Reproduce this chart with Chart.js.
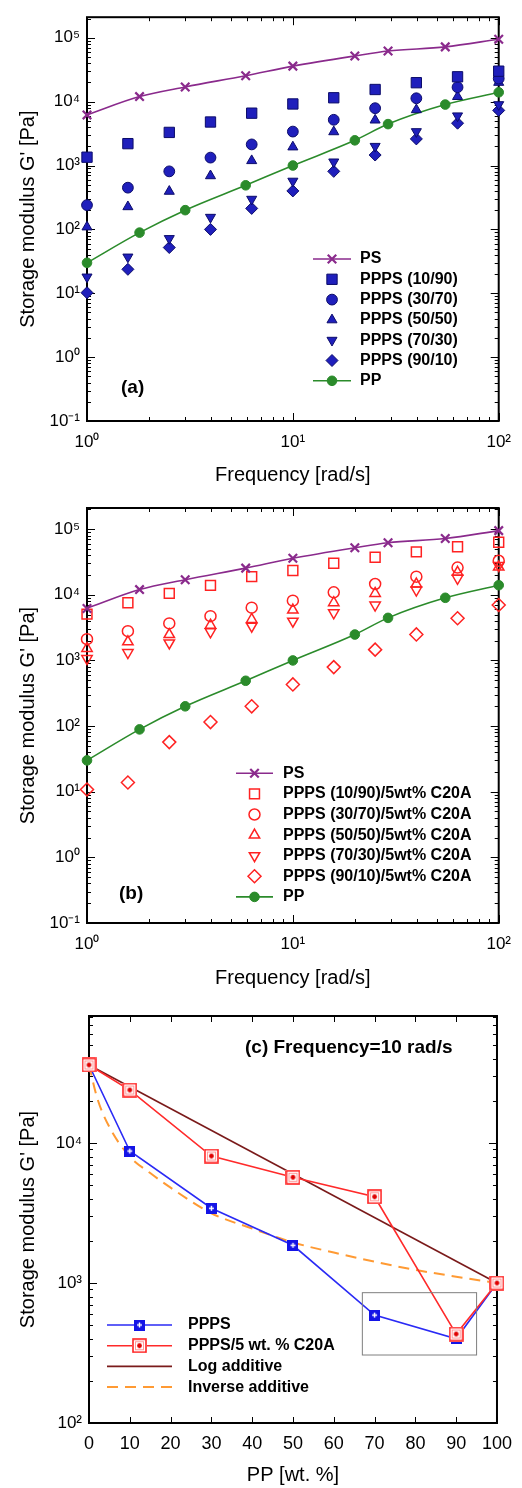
<!DOCTYPE html>
<html>
<head>
<meta charset="utf-8">
<script src="https://cdn.jsdelivr.net/npm/chart.js@4.4.0/dist/chart.umd.min.js"></script>
<style>
  body { margin: 0; background: #fff; width: 522px; }
  .panel { position: relative; width: 522px; }
</style>
</head>
<body>
<div class="panel" style="height:490px"><canvas id="chartA"></canvas></div>
<div class="panel" style="height:500px"><canvas id="chartB"></canvas></div>
<div class="panel" style="height:498px"><canvas id="chartC"></canvas></div>
<script>
// --- data ---
const freqPure = [1, 1.8, 3, 5.9, 10, 20, 29, 55, 100];
const freqBlend = [1, 1.58, 2.51, 3.98, 6.31, 10, 15.8, 25.1, 39.8, 63.1, 100];
const gPS = [6200, 12000, 17000, 25500, 36000, 52000, 62000, 72000, 95000];
const gPP = [30, 89, 200, 490, 1000, 2480, 4450, 9000, 14000];

const gA_10_90 = [1350, 2200, 3300, 4800, 6600, 9200, 11500, 15500, 19800, 24500, 30000];
const gA_30_70 = [240, 450, 810, 1330, 2140, 3400, 5200, 7900, 11300, 16800, 23000];
const gA_50_50 = [109, 226, 394, 690, 1190, 1950, 3370, 5140, 7460, 12000, 20000];
const gA_70_30 = [18, 37, 72, 155, 297, 570, 1140, 2000, 3400, 6000, 9000];
const gA_90_10 = [10.2, 23.7, 52, 100, 213, 400, 810, 1460, 2610, 4600, 7300];

const gB_10_90 = [5080, 7570, 10500, 13900, 18900, 23400, 30200, 37300, 45100, 54000, 63000];
const gB_30_70 = [2110, 2790, 3660, 4730, 6360, 8130, 10900, 14600, 18900, 26000, 33000];
const gB_50_50 = [1520, 1920, 2480, 3450, 4220, 5850, 7570, 10500, 14600, 22000, 26500];
const gB_70_30 = [1070, 1320, 1850, 2730, 3330, 3970, 5320, 6980, 11800, 17800, 28000];
const gB_90_10 = [10.8, 13.8, 57, 115, 200, 431, 791, 1460, 2490, 4400, 7000];

const ppContent = [0, 10, 30, 50, 70, 90, 100];
const gPPPS = [36100, 8770, 3420, 1860, 590, 400, 1000];
const gPPPSclay = [36100, 23900, 8070, 5690, 4130, 432, 1000];
const logAddX = [0, 100];
const logAddG = [36100, 1000];
const invAddX = [0, 2, 5, 10, 15, 20, 30, 40, 50, 60, 70, 80, 90, 100];
const invAddG = [36100, 21000, 13000, 8000, 6100, 4800, 3150, 2450, 1950, 1650, 1420, 1240, 1110, 1000];
const zoomBox = [67, 95, 306, 853]; // x1, x2, y1, y2 in data units

const freqTicks = [1, 10, 100];
const gTicksAB = [0.1, 1, 10, 100, 1000, 10000, 100000];
const gTicksC = [100, 1000, 10000];
const ppTicks = [0, 10, 20, 30, 40, 50, 60, 70, 80, 90, 100];

const FONT = 'Arial, "Liberation Sans", sans-serif';
const SUP = {'-': '\u207B', '0': '\u2070', '1': '\u00B9', '2': '\u00B2', '3': '\u00B3', '4': '\u2074',
             '5': '\u2075', '6': '\u2076', '7': '\u2077', '8': '\u2078', '9': '\u2079'};
function powLabel(v) {
  const e = Math.round(Math.log10(v));
  return '10' + String(e).split('').map(c => SUP[c]).join('');
}
function pts(xs, ys) { return xs.map((x, i) => ({x: x, y: ys[i]})); }

// frame with inward ticks on all four sides
function tickList(scale, majors) {
  const minor = [];
  if (scale.type === 'logarithmic') {
    for (let e = Math.floor(Math.log10(scale.min)); e <= Math.ceil(Math.log10(scale.max)); e++) {
      for (let m = 2; m <= 9; m++) {
        const v = m * Math.pow(10, e);
        if (v > scale.min && v < scale.max) minor.push(v);
      }
    }
  }
  return {major: majors, minor: minor};
}
const frameTicks = {
  id: 'frameTicks',
  beforeDatasetsDraw(chart, args, o) {
    const {ctx, chartArea: a, scales: {x, y}} = chart;
    ctx.save();
    ctx.strokeStyle = '#000';
    ctx.lineWidth = 1;
    const xt = tickList(x, o.xMajor), yt = tickList(y, o.yMajor);
    ctx.beginPath();
    const vx = (vals, len) => vals.forEach(v => {
      const px = Math.round(x.getPixelForValue(v)) + 0.5;
      ctx.moveTo(px, a.bottom); ctx.lineTo(px, a.bottom - len);
      ctx.moveTo(px, a.top); ctx.lineTo(px, a.top + len);
    });
    const vy = (vals, len) => vals.forEach(v => {
      const py = Math.round(y.getPixelForValue(v)) + 0.5;
      ctx.moveTo(a.left, py); ctx.lineTo(a.left + len, py);
      ctx.moveTo(a.right, py); ctx.lineTo(a.right - len, py);
    });
    vx(xt.major, o.xLen); vx(xt.minor, 4);
    vy(yt.major, 8); vy(yt.minor, 4);
    ctx.stroke();
    ctx.lineWidth = 2;
    ctx.strokeRect(a.left, a.top, a.right - a.left, a.bottom - a.top);
    ctx.restore();
  }
};

// legend and panel captions
const boxLegend = {
  id: 'boxLegend',
  afterDraw(chart, args, o) {
    const ctx = chart.ctx;
    ctx.save();
    ctx.textBaseline = 'middle';
    let row = 0;
    chart.data.datasets.forEach(ds => {
      const y = o.top + row * o.step;
      row++;
      if (ds.showLine) {
        ctx.strokeStyle = ds.borderColor;
        ctx.lineWidth = ds.borderWidth;
        ctx.setLineDash(ds.borderDash || []);
        ctx.beginPath();
        ctx.moveTo(o.lineX1, y); ctx.lineTo(o.lineX2, y);
        ctx.stroke();
        ctx.setLineDash([]);
      }
      if (ds.pointRadius > 0) {
        ctx.fillStyle = ds.pointBackgroundColor;
        ctx.strokeStyle = ds.pointBorderColor;
        ctx.lineWidth = ds.pointBorderWidth;
        Chart.helpers.drawPoint(ctx, {
          pointStyle: ds.pointStyle, rotation: ds.pointRotation || 0,
          radius: ds.pointRadius, borderWidth: ds.pointBorderWidth
        }, (o.lineX1 + o.lineX2) / 2, y);
      }
      ctx.fillStyle = '#000';
      ctx.font = 'bold 16px ' + FONT;
      ctx.fillText(ds.label, o.textX, y);
    });
    ctx.font = 'bold 19px ' + FONT;
    ctx.fillText(o.caption, o.capX, o.capY);
    if (o.box) {
      const {x, y} = chart.scales;
      ctx.strokeStyle = '#7f7f7f';
      ctx.lineWidth = 1;
      const x1 = x.getPixelForValue(o.box[0]), x2 = x.getPixelForValue(o.box[1]);
      const y1 = y.getPixelForValue(o.box[2]), y2 = y.getPixelForValue(o.box[3]);
      ctx.strokeRect(x1, y2, x2 - x1, y1 - y2);
    }
    ctx.restore();
  }
};

function markers(label, xs, ys, style, fill, stroke, radius, rot) {
  return {
    label: label, data: pts(xs, ys), showLine: false, clip: false,
    pointStyle: style, pointRotation: rot || 0, pointRadius: radius, pointHoverRadius: radius,
    pointBackgroundColor: fill, pointBorderColor: stroke, pointBorderWidth: fill === 'rgba(0,0,0,0)' ? 1.5 : 1
  };
}
function curve(label, xs, ys, color, style, fill, radius) {
  return {
    label: label, data: pts(xs, ys), showLine: true, clip: false,
    borderColor: color, borderWidth: 1.6, cubicInterpolationMode: 'monotone',
    pointStyle: style, pointRadius: radius, pointHoverRadius: radius,
    pointBackgroundColor: fill, pointBorderColor: style === 'crossRot' ? color : fill,
    pointBorderWidth: style === 'crossRot' ? 2.2 : 1
  };
}

function axisX(log, min, max, ticksV, fmt, height, padTick, padTitle, text, size) {
  return {
    type: log ? 'logarithmic' : 'linear', min: min, max: max,
    afterBuildTicks: s => { s.ticks = ticksV.map(v => ({value: v})); },
    afterFit: s => { s.height = height; },
    grid: {display: false, drawTicks: false}, border: {display: false},
    ticks: {callback: fmt, color: '#000', font: {family: FONT, size: size}, padding: padTick,
            autoSkip: false, maxRotation: 0},
    title: {display: true, text: text, color: '#000', font: {family: FONT, size: 20},
            padding: {top: 0, bottom: padTitle}}
  };
}
function axisY(min, max, ticksV, width, text) {
  return {
    type: 'logarithmic', min: min, max: max,
    afterBuildTicks: s => { s.ticks = ticksV.map(v => ({value: v})); },
    afterFit: s => { s.width = width; },
    grid: {display: false, drawTicks: false}, border: {display: false},
    ticks: {callback: v => powLabel(v), color: '#000', font: {family: FONT, size: 17}, padding: 7,
            autoSkip: false},
    title: {display: true, text: text, color: '#000', font: {family: FONT, size: 20},
            padding: {top: 16, bottom: 0}}
  };
}

const BLUE = '#1f1fbc', BLUE_EDGE = '#0c0c6a', RED = '#ff2222', NONE = 'rgba(0,0,0,0)';
const PURPLE = '#8a2a8c', GREEN = '#2b8b2b';

new Chart(document.getElementById('chartA'), {
  type: 'scatter',
  data: {datasets: [
    curve('PS', freqPure, gPS, PURPLE, 'crossRot', PURPLE, 6),
    markers('PPPS (10/90)', freqBlend, gA_10_90, 'rect', BLUE, BLUE_EDGE, 7.3),
    markers('PPPS (30/70)', freqBlend, gA_30_70, 'circle', BLUE, BLUE_EDGE, 5.4),
    markers('PPPS (50/50)', freqBlend, gA_50_50, 'triangle', BLUE, BLUE_EDGE, 5.8),
    markers('PPPS (70/30)', freqBlend, gA_70_30, 'triangle', BLUE, BLUE_EDGE, 5.8, 180),
    markers('PPPS (90/10)', freqBlend, gA_90_10, 'rectRot', BLUE, BLUE_EDGE, 6),
    curve('PP', freqPure, gPP, GREEN, 'circle', GREEN, 4.8)
  ]},
  options: {
    responsive: true, maintainAspectRatio: false, animation: false,
    layout: {padding: {top: 8, right: 21, left: 0, bottom: 0}},
    scales: {
      x: axisX(true, 1, 100, freqTicks, v => powLabel(v), 69, 11, 3, 'Frequency [rad/s]', 17),
      y: axisY(0.1, 210000, gTicksAB, 87, "Storage modulus G' [Pa]")
    },
    plugins: {
      legend: {display: false}, tooltip: {enabled: false},
      frameTicks: {xMajor: freqTicks, yMajor: gTicksAB, xLen: 8},
      boxLegend: {top: 259, step: 20.3, lineX1: 313, lineX2: 351, textX: 360,
                  caption: '(a)', capX: 121, capY: 388}
    }
  },
  plugins: [frameTicks, boxLegend]
});

new Chart(document.getElementById('chartB'), {
  type: 'scatter',
  data: {datasets: [
    curve('PS', freqPure, gPS, PURPLE, 'crossRot', PURPLE, 6),
    markers('PPPS (10/90)/5wt% C20A', freqBlend, gB_10_90, 'rect', NONE, RED, 7),
    markers('PPPS (30/70)/5wt% C20A', freqBlend, gB_30_70, 'circle', NONE, RED, 5.5),
    markers('PPPS (50/50)/5wt% C20A', freqBlend, gB_50_50, 'triangle', NONE, RED, 6),
    markers('PPPS (70/30)/5wt% C20A', freqBlend, gB_70_30, 'triangle', NONE, RED, 6, 180),
    markers('PPPS (90/10)/5wt% C20A', freqBlend, gB_90_10, 'rectRot', NONE, RED, 6.5),
    curve('PP', freqPure, gPP, GREEN, 'circle', GREEN, 4.8)
  ]},
  options: {
    responsive: true, maintainAspectRatio: false, animation: false,
    layout: {padding: {top: 18, right: 21, left: 0, bottom: 0}},
    scales: {
      x: axisX(true, 1, 100, freqTicks, v => powLabel(v), 67, 11, 0, 'Frequency [rad/s]', 17),
      y: axisY(0.1, 210000, gTicksAB, 87, "Storage modulus G' [Pa]")
    },
    plugins: {
      legend: {display: false}, tooltip: {enabled: false},
      frameTicks: {xMajor: freqTicks, yMajor: gTicksAB, xLen: 8},
      boxLegend: {top: 283.3, step: 20.6, lineX1: 236, lineX2: 273, textX: 283,
                  caption: '(b)', capX: 119, capY: 404}
    }
  },
  plugins: [frameTicks, boxLegend]
});

// panel (c) marker images
function squareMarker(kind) {
  const c = document.createElement('canvas');
  const s = kind === 'blue' ? 11 : 15;
  c.width = s; c.height = s;
  const g = c.getContext('2d');
  if (kind === 'blue') {
    g.fillStyle = '#1414e6';
    g.fillRect(0, 0, s, s);
    g.strokeStyle = '#ffffff';
    g.lineWidth = 1.4;
    g.beginPath();
    g.moveTo(s / 2, 3); g.lineTo(s / 2, s - 3);
    g.moveTo(3, s / 2); g.lineTo(s - 3, s / 2);
    g.stroke();
  } else {
    g.fillStyle = '#ffffff';
    g.fillRect(0, 0, s, s);
    g.strokeStyle = RED;
    g.lineWidth = 1.6;
    g.strokeRect(1, 1, s - 2, s - 2);
    g.strokeStyle = '#ff9a9a';
    g.lineWidth = 1;
    g.strokeRect(3.5, 3.5, s - 7, s - 7);
    g.fillStyle = '#e00000';
    g.beginPath();
    g.arc(s / 2, s / 2, 2.4, 0, Math.PI * 2);
    g.fill();
  }
  return c;
}

function line(label, xs, ys, color, width, dash, marker, order, smooth) {
  return {
    label: label, data: pts(xs, ys), showLine: true, clip: false, order: order,
    borderColor: color, borderWidth: width, borderDash: dash || [],
    cubicInterpolationMode: smooth ? 'monotone' : 'default', tension: 0,
    pointStyle: marker || 'circle', pointRadius: marker ? 7 : 0, pointHoverRadius: marker ? 7 : 0,
    pointBackgroundColor: color, pointBorderColor: color, pointBorderWidth: 0
  };
}

new Chart(document.getElementById('chartC'), {
  type: 'scatter',
  data: {datasets: [
    line('PPPS', ppContent, gPPPS, '#2a2af5', 1.6, null, squareMarker('blue'), 1, false),
    line('PPPS/5 wt. % C20A', ppContent, gPPPSclay, '#ff2a2a', 1.6, null, squareMarker('red'), 0, false),
    line('Log additive', logAddX, logAddG, '#7a1a1a', 1.6, null, null, 3, false),
    line('Inverse additive', invAddX, invAddG, '#ff9a33', 2, [11, 7], null, 2, true)
  ]},
  options: {
    responsive: true, maintainAspectRatio: false, animation: false,
    layout: {padding: {top: 26, right: 23, left: 0, bottom: 0}},
    scales: {
      x: axisX(false, 0, 100, ppTicks, v => String(v), 65, 10, 1, 'PP [wt. %]', 18),
      y: axisY(100, 80800, gTicksC, 89, "Storage modulus G' [Pa]")
    },
    plugins: {
      legend: {display: false}, tooltip: {enabled: false},
      frameTicks: {xMajor: ppTicks, yMajor: gTicksC, xLen: 6},
      boxLegend: {top: 335, step: 20.7, lineX1: 107, lineX2: 172, textX: 188,
                  caption: '(c) Frequency=10 rad/s', capX: 245, capY: 58, box: zoomBox}
    }
  },
  plugins: [frameTicks, boxLegend]
});
</script>
</body>
</html>
